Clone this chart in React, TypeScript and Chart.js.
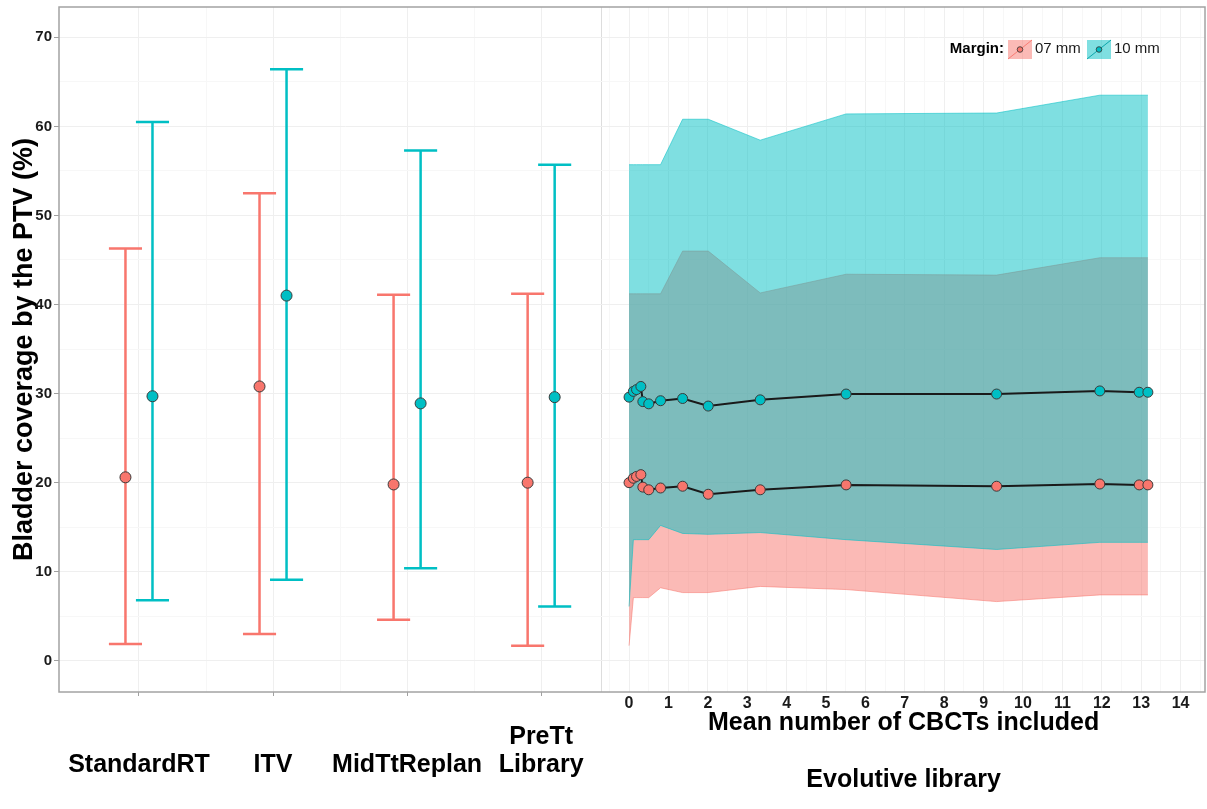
import React, { useEffect, useRef } from 'react';
import { Chart, registerables } from 'chart.js';

Chart.register(...registerables);

// ---------- data ----------
const categories: (string | string[])[] = ['StandardRT', 'ITV', 'MidTtReplan', ['PreTt', 'Library']];
const mean07 = [20.6, 30.8, 19.8, 20.0];
const lo07 = [1.9, 3.0, 4.6, 1.7];
const hi07 = [46.3, 52.5, 41.1, 41.2];
const mean10 = [29.7, 41.0, 28.9, 29.6];
const lo10 = [6.8, 9.1, 10.4, 6.1];
const hi10 = [60.5, 66.4, 57.3, 55.7];

// evolutive library (mean number of CBCTs included)
const cbcts = [0, 0.11, 0.19, 0.3, 0.35, 0.5, 0.8, 1.36, 2.01, 3.33, 5.51, 9.33, 11.95, 12.95, 13.17];
const evo07 = [20.0, 20.5, 20.7, 20.9, 19.5, 19.2, 19.4, 19.6, 18.7, 19.2, 19.75, 19.6, 19.85, 19.75, 19.75];
const evo10 = [29.6, 30.25, 30.45, 30.8, 29.1, 28.85, 29.2, 29.45, 28.6, 29.3, 29.95, 29.95, 30.3, 30.15, 30.15];
const evoLow07 = [1.7, 7.1, 7.1, 7.1, 7.1, 7.1, 8.2, 7.66, 7.66, 8.35, 8.0, 6.65, 7.4, 7.4, 7.4];
const evoHigh07 = [41.2, 41.2, 41.2, 41.2, 41.2, 41.2, 41.2, 46.0, 46.0, 41.3, 43.4, 43.3, 45.25, 45.25, 45.25];
const evoLow10 = [6.1, 13.6, 13.6, 13.6, 13.6, 13.6, 15.2, 14.3, 14.2, 14.4, 13.6, 12.5, 13.3, 13.3, 13.3];
const evoHigh10 = [55.7, 55.7, 55.7, 55.7, 55.7, 55.7, 55.7, 60.8, 60.8, 58.45, 61.4, 61.5, 63.5, 63.5, 63.5];

const xTickLabels = [0, 1, 2, 3, 4, 5, 6, 7, 8, 9, 10, 11, 12, 13, 14];
const yTickLabels = [0, 10, 20, 30, 40, 50, 60, 70];
const legendTitle = 'Margin:';
const seriesNames = ['07 mm', '10 mm'];
const yTitle = 'Bladder coverage by the PTV (%)';
const insetXTitle = 'Mean number of CBCTs included';
const insetCategory = 'Evolutive library';

// ---------- layout constants ----------
const X_MIN = -14.47;
const X_MAX = 14.62;
const Y_MIN = -3.5;
const Y_MAX = 73.4;
const CAT_FIRST = -12.44;
const CAT_STEP = 3.403;
const DODGE = 0.343;
const CAP = 0.42;
const INSET_START = -0.7;
const INSET_CENTER = 6.97;

const RED = '#F8766D';
const TEAL = '#00BFC4';
const RED_FILL = 'rgba(248,118,109,0.5)';
const TEAL_FILL = 'rgba(0,191,196,0.5)';
const FONT = '"Liberation Sans", Arial, Helvetica, sans-serif';

export default function App() {
  const ref = useRef<HTMLCanvasElement>(null);

  useEffect(() => {
    const catPos = categories.map((_, i) => CAT_FIRST + i * CAT_STEP);

    const errorBars = (lo: number[], hi: number[], off: number) => {
      const pts: { x: number; y: number | null }[] = [];
      lo.forEach((l, i) => {
        const x = catPos[i] + off;
        const h = hi[i];
        pts.push({ x, y: l }, { x, y: h }, { x, y: null });
        pts.push({ x: x - CAP, y: h }, { x: x + CAP, y: h }, { x, y: null });
        pts.push({ x: x - CAP, y: l }, { x: x + CAP, y: l }, { x, y: null });
      });
      return pts;
    };
    const series = (xs: number[], ys: number[]) => xs.map((x, i) => ({ x, y: ys[i] }));

    const xGridVals: number[] = [...catPos, INSET_START];
    for (let i = 0; i < catPos.length - 1; i++) xGridVals.push((catPos[i] + catPos[i + 1]) / 2);
    for (let v = -0.5; v <= 14.5; v += 0.5) xGridVals.push(v);
    xGridVals.sort((a, b) => a - b);

    const yGridVals: number[] = [];
    for (let v = 0; v <= 70; v += 5) yGridVals.push(v);

    const noPad = (s: any) => {
      s.paddingTop = 0;
      s.paddingBottom = 0;
      s.paddingLeft = 0;
      s.paddingRight = 0;
    };

    const decor = {
      id: 'decor',
      afterDraw(chart: any) {
        const { ctx, chartArea: a, scales } = chart;
        ctx.save();
        ctx.strokeStyle = '#a3a3a3';
        ctx.lineWidth = 1.5;
        ctx.strokeRect(a.left, a.top, a.right - a.left, a.bottom - a.top);

        const cx = scales.x.getPixelForValue(INSET_CENTER);
        ctx.fillStyle = '#000';
        ctx.textAlign = 'center';
        ctx.textBaseline = 'middle';
        ctx.font = `bold 25px ${FONT}`;
        ctx.fillText(insetXTitle, cx, a.bottom + 31);
        ctx.fillText(insetCategory, cx, a.bottom + 88);

        // legend
        const ly = a.top + 42;
        const kx1 = a.right - 197;
        ctx.font = `bold 15px ${FONT}`;
        ctx.textAlign = 'right';
        ctx.fillText(legendTitle, kx1 - 4, ly);
        const keys = [
          { x: kx1, fill: RED_FILL, line: 'rgba(248,118,109,0.9)', pt: RED, label: seriesNames[0] },
          { x: kx1 + 79, fill: TEAL_FILL, line: 'rgba(0,160,165,0.9)', pt: TEAL, label: seriesNames[1] },
        ];
        keys.forEach((k) => {
          ctx.fillStyle = k.fill;
          ctx.fillRect(k.x, ly - 9, 24, 19);
          ctx.strokeStyle = k.line;
          ctx.lineWidth = 1;
          ctx.beginPath();
          ctx.moveTo(k.x, ly + 10);
          ctx.lineTo(k.x + 24, ly - 9);
          ctx.stroke();
          ctx.beginPath();
          ctx.arc(k.x + 12, ly + 0.5, 2.8, 0, Math.PI * 2);
          ctx.fillStyle = k.pt;
          ctx.fill();
          ctx.strokeStyle = '#333';
          ctx.lineWidth = 0.8;
          ctx.stroke();
          ctx.fillStyle = '#1a1a1a';
          ctx.font = `15px ${FONT}`;
          ctx.textAlign = 'left';
          ctx.fillText(k.label, k.x + 27, ly);
        });
        ctx.restore();
      },
    };

    Chart.defaults.font.family = FONT;

    const chart = new Chart(ref.current as HTMLCanvasElement, {
      type: 'line',
      data: {
        datasets: [
          {
            label: 'ribbon07hi',
            data: series(cbcts, evoHigh07),
            borderColor: 'rgba(248,118,109,0.55)',
            borderWidth: 1,
            backgroundColor: RED_FILL,
            fill: '+1',
            pointRadius: 0,
            order: 10,
          },
          {
            label: 'ribbon07lo',
            data: series(cbcts, evoLow07),
            borderColor: 'rgba(248,118,109,0.55)',
            borderWidth: 1,
            fill: false,
            pointRadius: 0,
            order: 10,
          },
          {
            label: 'ribbon10hi',
            data: series(cbcts, evoHigh10),
            borderColor: 'rgba(0,191,196,0.55)',
            borderWidth: 1,
            backgroundColor: TEAL_FILL,
            fill: '+1',
            pointRadius: 0,
            order: 9,
          },
          {
            label: 'ribbon10lo',
            data: series(cbcts, evoLow10),
            borderColor: 'rgba(0,191,196,0.55)',
            borderWidth: 1,
            fill: false,
            pointRadius: 0,
            order: 9,
          },
          {
            label: 'err07',
            data: errorBars(lo07, hi07, -DODGE),
            borderColor: RED,
            borderWidth: 2.5,
            pointRadius: 0,
            spanGaps: false,
            fill: false,
            order: 5,
          },
          {
            label: 'err10',
            data: errorBars(lo10, hi10, DODGE),
            borderColor: TEAL,
            borderWidth: 2.5,
            pointRadius: 0,
            spanGaps: false,
            fill: false,
            order: 5,
          },
          {
            label: 'evo07',
            data: series(cbcts, evo07),
            borderColor: '#1a1a1a',
            borderWidth: 2,
            pointRadius: 5,
            pointBackgroundColor: RED,
            pointBorderColor: '#3a3a3a',
            pointBorderWidth: 1,
            fill: false,
            order: 2,
          },
          {
            label: 'evo10',
            data: series(cbcts, evo10),
            borderColor: '#1a1a1a',
            borderWidth: 2,
            pointRadius: 5,
            pointBackgroundColor: TEAL,
            pointBorderColor: '#3a3a3a',
            pointBorderWidth: 1,
            fill: false,
            order: 2,
          },
          {
            label: 'mean07',
            data: series(catPos.map((p) => p - DODGE), mean07),
            showLine: false,
            pointRadius: 5.5,
            pointBackgroundColor: RED,
            pointBorderColor: '#3a3a3a',
            pointBorderWidth: 1,
            order: 1,
          },
          {
            label: 'mean10',
            data: series(catPos.map((p) => p + DODGE), mean10),
            showLine: false,
            pointRadius: 5.5,
            pointBackgroundColor: TEAL,
            pointBorderColor: '#3a3a3a',
            pointBorderWidth: 1,
            order: 1,
          },
        ] as any,
      },
      options: {
        responsive: false,
        animation: false,
        layout: { autoPadding: false, padding: { left: 0, right: 2, top: 7, bottom: 0 } },
        plugins: {
          legend: { display: false },
          tooltip: { enabled: false },
          filler: { drawTime: 'beforeDatasetDraw' } as any,
        },
        elements: { line: { tension: 0 } },
        scales: {
          x: {
            type: 'linear',
            position: 'bottom',
            min: X_MIN,
            max: X_MAX,
            weight: 0,
            border: { display: false },
            afterBuildTicks: (s: any) => {
              s.ticks = xGridVals.map((v) => ({ value: v }));
            },
            afterFit: (s: any) => {
              s.height = 24;
              noPad(s);
            },
            grid: {
              color: (c: any) => {
                const v = c.tick ? c.tick.value : 0;
                if (v === INSET_START) return '#dddddd';
                if (catPos.includes(v) || Number.isInteger(v)) return '#efefef';
                return '#f7f7f7';
              },
              tickColor: (c: any) => (c.tick && catPos.includes(c.tick.value) ? '#a0a0a0' : 'rgba(0,0,0,0)'),
              tickLength: 4,
              lineWidth: 1,
            },
            ticks: {
              autoSkip: false,
              maxRotation: 0,
              minRotation: 0,
              padding: 0,
              color: '#1a1a1a',
              font: { size: 16, weight: 'bold', lineHeight: 1 },
              callback: (v: any) => (xTickLabels.includes(v) ? String(v) : ''),
            },
          },
          xcat: {
            type: 'linear',
            axis: 'x',
            position: 'bottom',
            min: X_MIN,
            max: X_MAX,
            weight: 1,
            border: { display: false },
            grid: { display: false, drawOnChartArea: false },
            afterBuildTicks: (s: any) => {
              s.ticks = catPos.map((v) => ({ value: v }));
            },
            afterFit: (s: any) => {
              s.height = 93;
              noPad(s);
            },
            ticks: {
              autoSkip: false,
              maxRotation: 0,
              minRotation: 0,
              crossAlign: 'far',
              padding: 13,
              color: '#000',
              font: { size: 25, weight: 'bold', lineHeight: 1.12 },
              callback: (_v: any, i: number) => categories[i] as any,
            },
          } as any,
          y: {
            type: 'linear',
            min: Y_MIN,
            max: Y_MAX,
            border: { display: false },
            afterBuildTicks: (s: any) => {
              s.ticks = yGridVals.map((v) => ({ value: v }));
            },
            afterFit: (s: any) => {
              s.width = 59;
              noPad(s);
            },
            grid: {
              color: (c: any) => (c.tick && c.tick.value % 10 === 0 ? '#efefef' : '#f7f7f7'),
              tickColor: (c: any) => (c.tick && c.tick.value % 10 === 0 ? '#a0a0a0' : 'rgba(0,0,0,0)'),
              tickLength: 5,
              lineWidth: 1,
            },
            ticks: {
              padding: 2,
              color: '#1a1a1a',
              font: { size: 15, weight: 'bold', lineHeight: 1 },
              callback: (v: any) => (yTickLabels.includes(v) ? String(v) : ''),
            },
            title: {
              display: true,
              text: yTitle,
              color: '#000',
              font: { size: 27, weight: 'bold', lineHeight: 1.2 },
              padding: { top: 8, bottom: 0 },
            },
          },
        },
      } as any,
      plugins: [decor],
    });

    return () => chart.destroy();
  }, []);

  return (
    <div style={{ position: 'fixed', left: 0, top: 0, width: 1207, height: 809, background: '#fff' }}>
      <canvas ref={ref} width={1207} height={809} style={{ display: 'block' }} />
    </div>
  );
}
